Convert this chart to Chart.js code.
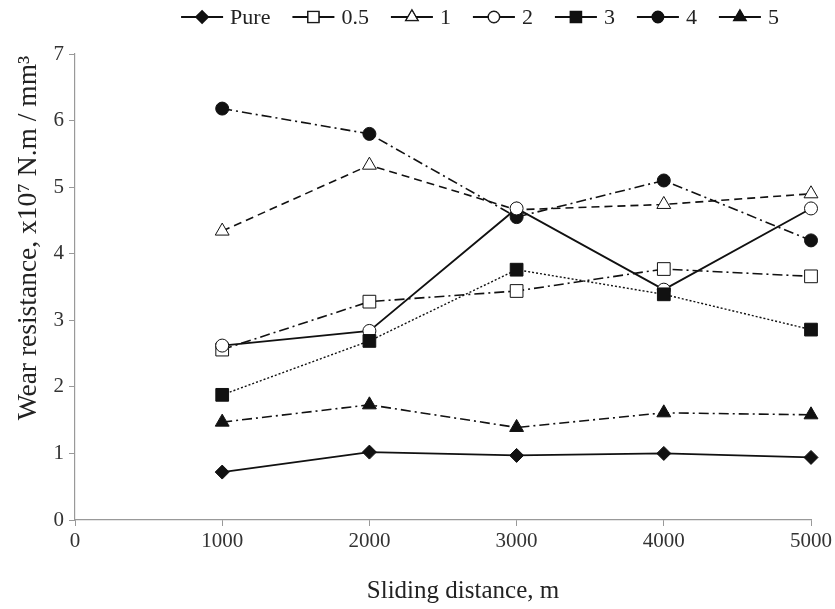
<!DOCTYPE html>
<html>
<head>
<meta charset="utf-8">
<script src="https://cdn.jsdelivr.net/npm/chart.js@4/dist/chart.umd.min.js"></script>
<style>
  html, body { margin: 0; padding: 0; background: #fff; }
  #wrap { width: 835px; height: 609px; position: relative; }
</style>
</head>
<body>
<div id="wrap"><canvas id="chart"></canvas></div>
<script>
// ─── Data ────────────────────────────────────────────────────────────────
const distances = [1000, 2000, 3000, 4000, 5000];
const seriesNames = ['Pure', '0.5', '1', '2', '3', '4', '5'];
const pure = [0.72, 1.02, 0.97, 1.00, 0.94];
const s05 = [2.56, 3.28, 3.44, 3.77, 3.66];
const s1 = [4.34, 5.33, 4.66, 4.74, 4.90];
const s2 = [2.62, 2.84, 4.68, 3.46, 4.68];
const s3 = [1.88, 2.69, 3.76, 3.39, 2.86];
const s4 = [6.18, 5.80, 4.55, 5.10, 4.20];
const s5 = [1.47, 1.73, 1.39, 1.61, 1.58];
const xTicks = [0, 1000, 2000, 3000, 4000, 5000];
const yTicks = [0, 1, 2, 3, 4, 5, 6, 7];

const FONT = '"Liberation Serif", "DejaVu Serif", serif';
const INK = '#111';
const DASHDOT = [10, 4, 2, 4];

function pts(values) {
  return values.map((v, i) => ({ x: distances[i], y: v }));
}

function series(label, values, style) {
  return Object.assign({
    label,
    data: pts(values),
    borderColor: INK,
    borderWidth: 1.6,
    pointBorderColor: INK,
    pointBorderWidth: 1,
    pointBackgroundColor: INK,
    pointRadius: 6.5,
    pointHoverRadius: 6.5,
    tension: 0,
    fill: false,
    clip: false,
  }, style);
}

// order: lower number is painted on top
const datasets = [
  series(seriesNames[0], pure, { order: 0, pointStyle: 'rectRot', pointRadius: 7, borderWidth: 1.8 }),
  series(seriesNames[1], s05, { order: 5, pointStyle: 'rect', pointRadius: 9, pointBackgroundColor: '#fff', borderDash: DASHDOT }),
  series(seriesNames[2], s1, { order: 4, pointStyle: 'triangle', pointRadius: 8, pointBackgroundColor: '#fff', borderDash: [8, 5] }),
  series(seriesNames[3], s2, { order: 2, pointStyle: 'circle', pointRadius: 6.5, pointBackgroundColor: '#fff', borderWidth: 1.8 }),
  series(seriesNames[4], s3, { order: 1, pointStyle: 'rect', pointRadius: 9, borderDash: [2, 2], borderWidth: 1.4 }),
  series(seriesNames[5], s4, { order: 3, pointStyle: 'circle', pointRadius: 6.5, borderDash: DASHDOT }),
  series(seriesNames[6], s5, { order: 6, pointStyle: 'triangle', pointRadius: 8, borderDash: DASHDOT }),
];

// ─── Legend + axis titles drawn by hand ──────────────────────────────────
const decorPlugin = {
  id: 'decor',
  afterDraw(chart) {
    const ctx = chart.ctx;
    const area = chart.chartArea;
    ctx.save();

    // legend: line through marker, then label
    ctx.font = '22px ' + FONT;
    ctx.textBaseline = 'middle';
    const lineLen = 42, gap = 7, spacing = 22;
    const widths = chart.data.datasets.map(d => lineLen + gap + ctx.measureText(d.label).width);
    const total = widths.reduce((a, b) => a + b, 0) + spacing * (widths.length - 1);
    let x = 480 - total / 2;
    const ly = 17;
    chart.data.datasets.forEach((d, i) => {
      ctx.strokeStyle = INK;
      ctx.lineWidth = 1.8;
      ctx.setLineDash([]);
      ctx.beginPath();
      ctx.moveTo(x, ly);
      ctx.lineTo(x + lineLen, ly);
      ctx.stroke();
      Chart.helpers.drawPoint(ctx, {
        pointStyle: d.pointStyle,
        radius: d.pointRadius * 0.85,
        borderWidth: 1,
      }, x + lineLen / 2, ly);
      ctx.fillStyle = d.pointBackgroundColor;
      ctx.strokeStyle = INK;
      ctx.lineWidth = 1;
      ctx.fill();
      ctx.stroke();
      ctx.fillStyle = '#222';
      ctx.textAlign = 'left';
      ctx.fillText(d.label, x + lineLen + gap, ly + 1);
      x += widths[i] + spacing;
    });

    // x axis title
    ctx.fillStyle = '#222';
    ctx.font = '25px ' + FONT;
    ctx.textAlign = 'center';
    ctx.textBaseline = 'alphabetic';
    ctx.fillText('Sliding distance, m', (area.left + area.right) / 2 + 20, 598);

    // y axis title
    ctx.translate(36, area.top + (area.bottom - area.top) / 2 - 49);
    ctx.rotate(-Math.PI / 2);
    ctx.font = '27.5px ' + FONT;
    ctx.fillText('Wear resistance, x10\u2077 N.m / mm\u00B3', 0, 0);
    ctx.restore();
  }
};

new Chart(document.getElementById('chart'), {
  type: 'line',
  data: { datasets },
  plugins: [decorPlugin],
  options: {
    responsive: true,
    maintainAspectRatio: false,
    animation: false,
    devicePixelRatio: 1,
    layout: { padding: { top: 54, right: 19, left: 0, bottom: 0 } },
    plugins: {
      legend: { display: false },
      tooltip: { enabled: false },
    },
    scales: {
      x: {
        type: 'linear',
        min: xTicks[0],
        max: xTicks[xTicks.length - 1],
        afterFit(scale) { scale.height = 89; },
        afterBuildTicks(scale) { scale.ticks = xTicks.map(v => ({ value: v })); },
        grid: { drawOnChartArea: false, drawTicks: true, tickLength: 6, color: '#999' },
        border: { color: '#999', width: 1.2 },
        ticks: {
          color: '#333',
          font: { family: FONT, size: 21 },
          padding: 3,
          maxRotation: 0,
          callback: v => String(v),
        },
      },
      y: {
        min: yTicks[0],
        max: yTicks[yTicks.length - 1],
        afterFit(scale) { scale.width = 75; },
        afterBuildTicks(scale) { scale.ticks = yTicks.map(v => ({ value: v })); },
        grid: { drawOnChartArea: false, drawTicks: true, tickLength: 6, color: '#999' },
        border: { color: '#999', width: 1.2 },
        ticks: { color: '#333', font: { family: FONT, size: 21 }, padding: 5 },
      },
    },
  },
});
</script>
</body>
</html>
